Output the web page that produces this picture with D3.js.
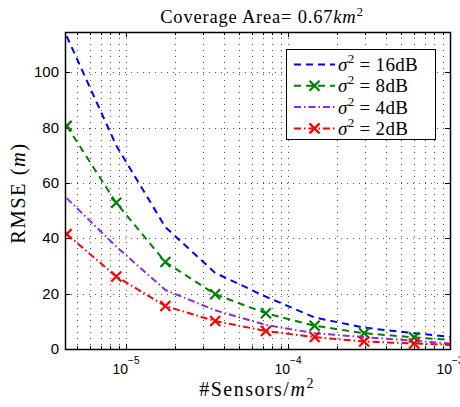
<!DOCTYPE html>
<html lang="en">
<head>
    <meta charset="UTF-8">
    <title>RMSE vs sensor density</title>
    <script src="https://d3js.org/d3.v7.min.js"></script>
    <style>
        body { margin: 0; background: #fff; }
        .serif { font-family: "Liberation Serif", "Times New Roman", serif; fill: #000; }
        .tick-lbl { font-family: "Liberation Sans", Arial, sans-serif; fill: #000; }
    </style>
</head>
<body>
    <div id="chart"></div>

    <script>
        // sensor density (#Sensors / m^2), area 0.67 km^2
        const density = [4.3e-6, 8.7e-6, 1.75e-5, 3.55e-5, 7.3e-5, 1.46e-4, 2.95e-4, 6.0e-4, 1.2e-3];
        const rmse16 = [113, 73.5, 44, 27.5, 18.9, 11.4, 7.7, 5.7, 3.9];
        const rmse8  = [80.6, 52.8, 31.4, 19.8, 12.9, 8.4, 5.7, 4.2, 3.0];
        const rmse4  = [54.5, 37, 21.3, 14, 8.7, 5.7, 4.3, 3.0, 1.6];
        const rmse2  = [41.5, 26.2, 15.5, 10.1, 6.5, 4.3, 2.7, 2.0, 1.3];
        const legendDb = ["16dB", "8dB", "4dB", "2dB"];
        const yTicks = [0, 20, 40, 60, 80, 100];
        const xTickExp = [-5, -4, -3];

        const W = 460, H = 407;
        const pLeft = 65, pRight = 450, pTop = 32, pBottom = 349;

        const x = d3.scaleLog().domain([4.2e-6, 1e-3]).range([pLeft, pRight]);
        const y = d3.scaleLinear().domain([0, 114.5]).range([pBottom, pTop]);

        const series = [
            { vals: rmse16, color: "#0000ff", dash: "7,5", marker: false },
            { vals: rmse8,  color: "#008000", dash: "7,5", marker: true },
            { vals: rmse4,  color: "#8a2be2", dash: "7,3,1.5,3", marker: false },
            { vals: rmse2,  color: "#ff0000", dash: "7,3,1.5,3", marker: true }
        ];

        const svg = d3.select("#chart").append("svg")
            .attr("width", W)
            .attr("height", H);

        svg.append("rect").attr("width", W).attr("height", H).attr("fill", "#fff");

        svg.append("clipPath").attr("id", "clip")
            .append("rect")
            .attr("x", pLeft).attr("y", pTop)
            .attr("width", pRight - pLeft).attr("height", pBottom - pTop);

        // grid: major + minor decades on x, majors on y
        const minorX = [];
        for (let e = -6; e <= -4; e++) {
            for (let m = 2; m <= 9; m++) {
                const v = m * Math.pow(10, e);
                if (v > x.domain()[0] && v < x.domain()[1]) minorX.push(v);
            }
        }
        const majorX = xTickExp.map(e => Math.pow(10, e));

        const grid = svg.append("g")
            .attr("stroke", "#222")
            .attr("stroke-width", 0.8)
            .attr("stroke-dasharray", "1,5");

        grid.selectAll(".gx").data(minorX.concat(majorX.slice(0, 2))).enter()
            .append("line")
            .attr("x1", d => Math.round(x(d)) + 0.5).attr("x2", d => Math.round(x(d)) + 0.5)
            .attr("y1", pTop).attr("y2", pBottom);

        grid.selectAll(".gy").data(yTicks.slice(1)).enter()
            .append("line")
            .attr("x1", pLeft).attr("x2", pRight)
            .attr("y1", d => Math.round(y(d)) + 0.5).attr("y2", d => Math.round(y(d)) + 0.5);

        // ticks pointing inward on all four sides
        const ticks = svg.append("g").attr("stroke", "#000").attr("stroke-width", 1);
        majorX.forEach(v => {
            const px = Math.round(x(v)) + 0.5;
            ticks.append("line").attr("x1", px).attr("x2", px).attr("y1", pBottom).attr("y2", pBottom - 5);
            ticks.append("line").attr("x1", px).attr("x2", px).attr("y1", pTop).attr("y2", pTop + 5);
        });
        minorX.forEach(v => {
            const px = Math.round(x(v)) + 0.5;
            ticks.append("line").attr("x1", px).attr("x2", px).attr("y1", pBottom).attr("y2", pBottom - 3);
            ticks.append("line").attr("x1", px).attr("x2", px).attr("y1", pTop).attr("y2", pTop + 3);
        });
        yTicks.forEach(v => {
            const py = Math.round(y(v)) + 0.5;
            ticks.append("line").attr("x1", pLeft).attr("x2", pLeft + 5).attr("y1", py).attr("y2", py);
            ticks.append("line").attr("x1", pRight).attr("x2", pRight - 5).attr("y1", py).attr("y2", py);
        });

        // tick labels
        svg.selectAll(".ylbl").data(yTicks).enter()
            .append("text")
            .attr("class", "tick-lbl")
            .attr("x", pLeft - 6)
            .attr("y", d => y(d) + 5)
            .attr("text-anchor", "end")
            .attr("font-size", 15)
            .text(d => d);

        xTickExp.forEach(e => {
            const t = svg.append("text")
                .attr("class", "tick-lbl")
                .attr("x", x(Math.pow(10, e)))
                .attr("y", 374)
                .attr("text-anchor", "middle")
                .attr("font-size", 14);
            t.append("tspan").text("10");
            t.append("tspan").attr("dy", -10).attr("font-size", 10).text("\u2212" + Math.abs(e));
        });

        // curves
        const line = d3.line()
            .x((d, i) => x(density[i]))
            .y(d => y(d));

        const plot = svg.append("g").attr("clip-path", "url(#clip)");

        series.forEach(s => {
            plot.append("path")
                .datum(s.vals)
                .attr("fill", "none")
                .attr("stroke", s.color)
                .attr("stroke-width", 2)
                .attr("stroke-dasharray", s.dash)
                .attr("d", line);
            if (s.marker) {
                plot.selectAll(null)
                    .data(s.vals)
                    .enter()
                    .append("path")
                    .attr("transform", (d, i) => `translate(${x(density[i])},${y(d)})`)
                    .attr("d", "M-5,-5L5,5M-5,5L5,-5")
                    .attr("stroke", s.color)
                    .attr("stroke-width", 2.2)
                    .attr("fill", "none");
            }
        });

        // axes box
        svg.append("rect")
            .attr("x", pLeft + 0.5).attr("y", pTop + 0.5)
            .attr("width", pRight - pLeft).attr("height", pBottom - pTop)
            .attr("fill", "none")
            .attr("stroke", "#000")
            .attr("stroke-width", 1.5);

        // legend
        const lg = svg.append("g");
        lg.append("rect")
            .attr("x", 286.5).attr("y", 49.5)
            .attr("width", 149).attr("height", 90)
            .attr("fill", "#fff")
            .attr("stroke", "#000")
            .attr("stroke-width", 1);

        series.forEach((s, i) => {
            const cy = 64.5 + i * 21.3;
            lg.append("line")
                .attr("x1", 294).attr("x2", 335)
                .attr("y1", cy).attr("y2", cy)
                .attr("stroke", s.color)
                .attr("stroke-width", 2)
                .attr("stroke-dasharray", s.dash);
            if (s.marker) {
                lg.append("path")
                    .attr("transform", `translate(314.5,${cy})`)
                    .attr("d", "M-5,-5L5,5M-5,5L5,-5")
                    .attr("stroke", s.color)
                    .attr("stroke-width", 2.2);
            }
            const t = lg.append("text")
                .attr("class", "serif")
                .attr("x", 338)
                .attr("y", cy + 6.5)
                .attr("font-size", 19)
                .attr("letter-spacing", 0.3);
            t.append("tspan").attr("font-style", "italic").text("\u03c3");
            t.append("tspan").attr("dy", -8).attr("font-size", 13).text("2");
            t.append("tspan").attr("dy", 8).text(" = " + legendDb[i]);
        });

        // title and axis labels
        const title = svg.append("text")
            .attr("class", "serif")
            .attr("x", 262)
            .attr("y", 23)
            .attr("text-anchor", "middle")
            .attr("font-size", 18.5)
            .attr("letter-spacing", 0.8);
        title.append("tspan").text("Coverage Area= 0.67");
        title.append("tspan").attr("font-style", "italic").text("km");
        title.append("tspan").attr("dy", -7).attr("font-size", 13).text("2");

        const xl = svg.append("text")
            .attr("class", "serif")
            .attr("x", 257)
            .attr("y", 396)
            .attr("text-anchor", "middle")
            .attr("font-size", 20)
            .attr("letter-spacing", 1.5);
        xl.append("tspan").text("#Sensors/");
        xl.append("tspan").attr("font-style", "italic").text("m");
        xl.append("tspan").attr("dy", -8).attr("font-size", 14).text("2");

        const yl = svg.append("text")
            .attr("class", "serif")
            .attr("transform", "translate(25,193) rotate(-90)")
            .attr("text-anchor", "middle")
            .attr("font-size", 20.5)
            .attr("letter-spacing", 1.5);
        yl.append("tspan").text("RMSE (");
        yl.append("tspan").attr("font-style", "italic").text("m");
        yl.append("tspan").text(")");
    </script>
</body>
</html>
